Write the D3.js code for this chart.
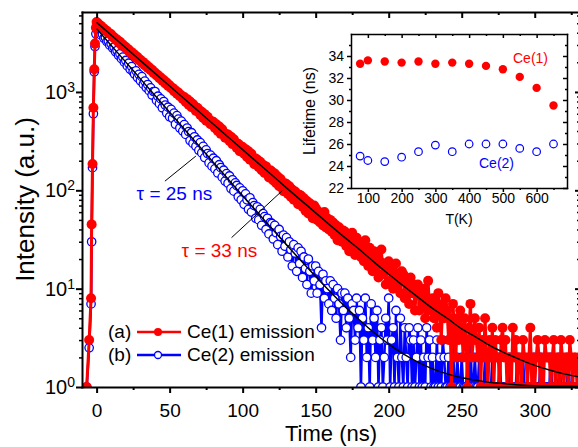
<!DOCTYPE html>
<html>
<head>
<meta charset="utf-8">
<script src="https://cdn.jsdelivr.net/npm/d3@7"></script>
<style>
  body { margin: 0; background: #fff; }
  text { font-family: "Liberation Sans", Arial, sans-serif; }
</style>
</head>
<body>
<svg id="chart" width="578" height="447"></svg>
<script>
///////////////////////////////    DATA    ///////////////////////////////
// rising edge of the pulse (ns, counts)
var riseTimes = [-6.8, -5.1, -3.8, -3.4, -2.8, -2.2, -1.6, -1.1, -0.5];
var redRise   = [1, 3, 8, 45, 185, 690, 1700, 3100, 4500];
var blueRise  = [1, 2.5, 7, 30, 170, 600, 1600, 2900, 3900];

// decay part, one value per ns starting at t = 0
var decayStart = 0, decayStep = 1;
var redDecay = [
  5150,4980,4760,4700,4490,4420,4230,4180,3980,3930,
  3850,3610,3600,3390,3420,3190,3230,3010,3040,2850,
  2860,2680,2700,2510,2540,2370,2400,2230,2260,2100,
  2120,1980,2010,1860,1890,1750,1780,1660,1680,1560,
  1580,1470,1490,1380,1400,1300,1320,1220,1250,1150,
  1170,1090,1100,1020,1040,960,985,905,925,850,
  890,790,845,740,800,700,755,715,640,690,
  660,585,630,545,595,510,560,525,470,505,
  495,430,470,400,445,375,418,390,342,372,
  370,318,350,295,330,305,270,298,250,280,
  275,235,262,218,250,205,235,215,184,210,
  205,172,195,160,182,150,175,158,135,160,
  155,126,148,118,138,110,130,120,98,118,
  116,92,110,86,102,80,97,88,72,90,
  88,68,83,62,78,58,74,66,52,70,
  66,50,61,47,55,44,60,42,52,40,
  50,38,47,35,44,31,42,36,30,39,
  38,27,35,24,31,37,26,22,33,24,
  30,21,27,19,31,22,17,26,20,15,
  24,16,21,13,19,25,14,18,11,17,
  19,12,16,10,14,18,11,13,9,15,
  14,8,12,10,7,13,9,11,6,10,
  11,6,9,7,10,5,8,12,6,7,
  8,5,7,4,9,6,3,7,5,8,
  6,3,5,1,7,4,2,5,3,6,
  4,2,5,3,1,4,7,2,3,5,
  3,2,4,1,3,2,5,2,1,3,
  2,4,1,3,2,2,1,3,4,2,
  3,1,2,2,1,4,2,3,1,2,
  2,1,3,2,2,1,2,4,1,2,
  1,2,3,2,1,2,1,3,2,2,
  2,1,2,3,1,2,2,1,3,2,
  1,2,2,1,3,2,1,2,2,1,
  2,1,2,3,1,2,1,2,2,1,2
];
var blueDecay = [
  4450,4120,4150,3800,3850,3520,3580,3250,3300,2990,
  3080,2790,2850,2560,2640,2360,2440,2180,2260,2010,
  2090,1840,1960,1700,1810,1600,1520,1640,1400,1510,
  1300,1430,1200,1290,1110,1190,1030,1100,930,1010,
  1010,820,905,760,850,690,800,735,610,700,
  560,665,540,610,470,575,530,430,505,400,
  465,370,430,395,320,385,300,350,280,325,
  255,305,240,280,215,258,236,190,228,176,
  212,165,200,150,182,170,136,160,124,148,
  118,140,104,128,98,119,112,86,106,80,
  99,72,92,80,64,84,60,75,70,52,
  68,50,64,44,58,54,40,52,36,47,
  46,32,44,37,28,40,34,24,35,27,
  33,21,30,25,17,28,23,15,26,18,
  24,13,21,16,11,20,15,9,17,12,
  17,9,15,11,4,14,8,12,10,7,
  12,6,11,8,5,10,7,3,9,6,
  9,4,8,5,2,7,6,3,8,4,
  6,1,5,3,8,2,4,1,7,3,
  5,2,6,1,3,4,1,2,5,3,
  8,1,3,4,1,6,2,1,5,2,
  1,4,2,1,4,3,1,3,1,2,
  4,1,3,1,2,1,4,2,3,1,
  2,1,1,3,1,2,1,3,2,1,
  1,2,1,1,3,1,1,2,1,1,
  2,1,1,1,2,1,3,1,1,2,
  1,1,2,1,1,1,2,1,1,1,
  1,2,1,1,1,1,2,1,1,1,
  1,1,1,2,1,1,1,1,2,1,
  1,1,2,1,1,1,1,1,1,2,
  1,1,1,1,2,1,1,1,1,1,
  1,2,1,1,1,1,1,2,1,1,
  1,1,1,2,1,1,1,1,1,1,
  1,1,1,1,2,1,1,1,1,1,1
];

// exponential fits
var fitTimes = [0,10,20,30,40,50,60,70,80,90,100,110,120,130,140,150,160,170,
                180,190,200,210,220,230,240,250,260,270,280,290,300,310,320,330,340];
var redFit  = [5101,3785,2809,2084,1546,1148,852,632,469,348,259,192,143,106,79,59,44,33,
               25,18.6,14,10.7,8.2,6.3,5.0,3.9,3.2,2.6,2.2,1.9,1.66,1.49,1.36,1.27,1.2];
var blueFit = [4401,2974,2010,1358,918,621,420,284,192,130,88,60,40.8,27.9,19.2,13.3,9.3,6.6,
               4.8,3.56,2.73,2.17,1.79,1.53,1.36,1.24,1.17,1.11,1.08,1.05,1.03,1.02,1.02,1.01,1.01];

// inset: lifetime vs temperature
var insetTemps = [77,100,150,200,250,300,350,400,450,500,550,600,650];
var ce1Life = [33.3,33.6,33.5,33.4,33.5,33.3,33.4,33.3,33.1,32.8,32.1,31.1,29.5];
var ce2Life = [24.9,24.5,24.4,24.8,25.3,25.9,25.3,26.0,26.0,26.0,25.6,25.3,26.0];

// ticks
var xMajor = [0,50,100,150,200,250,300];
var xMinor = [25,75,125,175,225,275,325];
var yMajor = [1,10,100,1000];
var yMinor = [2,3,4,5,6,7,8,9,20,30,40,50,60,70,80,90,200,300,400,500,600,700,800,900,2000,3000,4000,5000,6000];
var inXMajor = [100,200,300,400,500,600];
var inXMinor = [150,250,350,450,550,650];
var inYMajor = [22,24,26,28,30,32,34];
var inYMinor = [23,25,27,29,31,33,35];

// annotations, in data units [t, value]
var tauNotes = [
  {text: "\u03c4 = 25 ns", color: "#0000ff", at: [27.4, 80], from: [46.8, 124], to: [68, 223]},
  {text: "\u03c4 = 33 ns", color: "#ff0000", at: [58.2, 21], from: [92.4, 33], to: [127.1, 99]}
];

///////////////////////////////    LAYOUT    ///////////////////////////////
var FONT = '"Liberation Sans", Arial, sans-serif';
var RED = "#ff0000", BLUE = "#0000ff";
var plotL = 82, plotR = 580, plotT = 12, plotB = 387;

var svg = d3.select("#chart");

var x = d3.scaleLinear().domain([-10, 331]).range([plotL, plotR]);
var y = d3.scaleLog().domain([1, 6500]).range([plotB, plotT]);

svg.append("clipPath").attr("id", "plotclip")
  .append("rect")
  .attr("x", plotL).attr("y", plotT)
  .attr("width", plotR - plotL).attr("height", plotB - plotT);

function buildSeries(rise, decay) {
  var pts = riseTimes.map(function(t, i) { return [t, rise[i]]; });
  decay.forEach(function(v, i) { pts.push([decayStart + i * decayStep, v]); });
  return pts;
}
var redSeries = buildSeries(redRise, redDecay);
var blueSeries = buildSeries(blueRise, blueDecay);

var line = d3.line()
  .x(function(d) { return x(d[0]); })
  .y(function(d) { return y(d[1]); });

var data = svg.append("g").attr("clip-path", "url(#plotclip)");

// blue first, red on top
data.append("path").datum(blueSeries)
  .attr("d", line).attr("fill", "none")
  .attr("stroke", BLUE).attr("stroke-width", 2.5);
data.append("g").selectAll("circle")
  .data(blueSeries).enter().append("circle")
  .attr("cx", function(d) { return x(d[0]); })
  .attr("cy", function(d) { return y(d[1]); })
  .attr("r", 4.2)
  .attr("fill", "#fff").attr("stroke", BLUE).attr("stroke-width", 1.3);

data.append("path").datum(redSeries)
  .attr("d", line).attr("fill", "none")
  .attr("stroke", RED).attr("stroke-width", 3);
data.append("g").selectAll("circle")
  .data(redSeries).enter().append("circle")
  .attr("cx", function(d) { return x(d[0]); })
  .attr("cy", function(d) { return y(d[1]); })
  .attr("r", 5)
  .attr("fill", RED);

// fit curves
var fitLine = d3.line()
  .x(function(d) { return x(d[0]); })
  .y(function(d) { return y(d[1]); })
  .curve(d3.curveMonotoneX);
[redFit, blueFit].forEach(function(vals) {
  data.append("path")
    .datum(fitTimes.map(function(t, i) { return [t, vals[i]]; }))
    .attr("d", fitLine).attr("fill", "none")
    .attr("stroke", "#000").attr("stroke-width", 1.5);
});

// tau annotations
tauNotes.forEach(function(n) {
  svg.append("line")
    .attr("x1", x(n.from[0])).attr("y1", y(n.from[1]))
    .attr("x2", x(n.to[0])).attr("y2", y(n.to[1]))
    .attr("stroke", "#000").attr("stroke-width", 1);
  svg.append("text")
    .attr("x", x(n.at[0])).attr("y", y(n.at[1]))
    .attr("font-size", 19).attr("fill", n.color)
    .text(n.text);
});

///////////////////////////////    AXES    ///////////////////////////////
function styleAxis(g, width, fontSize) {
  g.attr("font-family", FONT).attr("font-size", fontSize);
  g.selectAll(".tick line").attr("stroke-width", width);
  g.select(".domain").attr("stroke-width", width).attr("stroke-linecap", "square");
  g.selectAll("text").attr("fill", "#000");
  return g;
}
function noDomain(g) { g.select(".domain").remove(); return g; }

// bottom
styleAxis(svg.append("g").attr("transform", "translate(0," + plotB + ")")
  .call(d3.axisBottom(x).tickValues(xMajor).tickSize(6).tickSizeOuter(0).tickPadding(11)
    .tickFormat(d3.format("d"))), 2, 19);
noDomain(styleAxis(svg.append("g").attr("transform", "translate(0," + plotB + ")")
  .call(d3.axisBottom(x).tickValues(xMinor).tickSize(3).tickFormat("")), 2, 19));
// top (inward ticks, no labels)
styleAxis(svg.append("g").attr("transform", "translate(0," + plotT + ")")
  .call(d3.axisTop(x).tickValues(xMajor).tickSize(-6).tickSizeOuter(0).tickFormat("")), 2, 19);
noDomain(styleAxis(svg.append("g").attr("transform", "translate(0," + plotT + ")")
  .call(d3.axisTop(x).tickValues(xMinor).tickSize(-3).tickFormat("")), 2, 19));

// left, log with 10^n labels
var gy = styleAxis(svg.append("g").attr("transform", "translate(" + plotL + ",0)")
  .call(d3.axisLeft(y).tickValues(yMajor).tickSize(6).tickSizeOuter(0).tickPadding(1)
    .tickFormat(function() { return ""; })), 2, 20);
gy.selectAll(".tick text").each(function(d) {
  var t = d3.select(this);
  t.append("tspan").text("10");
  t.append("tspan").attr("dy", "-0.5em").attr("font-size", 14).text(Math.round(Math.log10(d)));
});
noDomain(styleAxis(svg.append("g").attr("transform", "translate(" + plotL + ",0)")
  .call(d3.axisLeft(y).tickValues(yMinor).tickSize(3).tickFormat("")), 1.5, 19));
// right (inward)
styleAxis(svg.append("g").attr("transform", "translate(" + plotR + ",0)")
  .call(d3.axisRight(y).tickValues(yMajor).tickSize(-5).tickSizeOuter(0).tickFormat("")), 2, 19);
noDomain(styleAxis(svg.append("g").attr("transform", "translate(" + plotR + ",0)")
  .call(d3.axisRight(y).tickValues(yMinor).tickSize(-3).tickFormat("")), 1.5, 19));

svg.append("text")
  .attr("x", (plotL + plotR) / 2).attr("y", 441)
  .attr("text-anchor", "middle").attr("font-size", 22)
  .text("Time (ns)");
svg.append("text")
  .attr("transform", "translate(34," + ((plotT + plotB) / 2) + ") rotate(-90)")
  .attr("text-anchor", "middle").attr("font-size", 26)
  .text("Intensity (a.u.)");

///////////////////////////////    LEGEND    ///////////////////////////////
var legend = [
  {tag: "(a)", label: "Ce(1) emission", color: RED, filled: true, y: 332},
  {tag: "(b)", label: "Ce(2) emission", color: BLUE, filled: false, y: 355}
];
legend.forEach(function(l) {
  var g = svg.append("g").attr("transform", "translate(0," + l.y + ")");
  g.append("text").attr("x", 108).attr("y", 6).attr("font-size", 19).text(l.tag);
  g.append("line").attr("x1", 137).attr("x2", 181).attr("y1", 0).attr("y2", 0)
    .attr("stroke", l.color).attr("stroke-width", 2.5);
  g.append("circle").attr("cx", 158).attr("cy", 0)
    .attr("r", l.filled ? 4 : 3.5)
    .attr("fill", l.filled ? l.color : "#fff")
    .attr("stroke", l.color).attr("stroke-width", l.filled ? 0 : 1.3);
  g.append("text").attr("x", 187).attr("y", 6).attr("font-size", 19).text(l.label);
});

///////////////////////////////    INSET    ///////////////////////////////
var inL = 351, inR = 567, inT = 34, inB = 188;
var ix = d3.scaleLinear().domain([50, 690]).range([inL, inR]);
var iy = d3.scaleLinear().domain([22, 36]).range([inB, inT]);

svg.append("rect").attr("x", inL).attr("y", inT)
  .attr("width", inR - inL).attr("height", inB - inT).attr("fill", "#fff");

svg.append("g").selectAll("circle")
  .data(insetTemps).enter().append("circle")
  .attr("cx", function(d) { return ix(d); })
  .attr("cy", function(d, i) { return iy(ce1Life[i]); })
  .attr("r", 4.2).attr("fill", RED);
svg.append("g").selectAll("circle")
  .data(insetTemps).enter().append("circle")
  .attr("cx", function(d) { return ix(d); })
  .attr("cy", function(d, i) { return iy(ce2Life[i]); })
  .attr("r", 3.8).attr("fill", "none").attr("stroke", BLUE).attr("stroke-width", 1.2);

styleAxis(svg.append("g").attr("transform", "translate(0," + inB + ")")
  .call(d3.axisBottom(ix).tickValues(inXMajor).tickSize(4).tickSizeOuter(0).tickPadding(1)), 1.5, 14);
noDomain(styleAxis(svg.append("g").attr("transform", "translate(0," + inB + ")")
  .call(d3.axisBottom(ix).tickValues(inXMinor).tickSize(2).tickFormat("")), 1.5, 14));
styleAxis(svg.append("g").attr("transform", "translate(0," + inT + ")")
  .call(d3.axisTop(ix).tickValues(inXMajor).tickSize(-4).tickSizeOuter(0).tickFormat("")), 1.5, 14);
noDomain(styleAxis(svg.append("g").attr("transform", "translate(0," + inT + ")")
  .call(d3.axisTop(ix).tickValues(inXMinor).tickSize(-2).tickFormat("")), 1.5, 14));
styleAxis(svg.append("g").attr("transform", "translate(" + inL + ",0)")
  .call(d3.axisLeft(iy).tickValues(inYMajor).tickSize(4).tickSizeOuter(0).tickPadding(3)), 1.5, 14);
noDomain(styleAxis(svg.append("g").attr("transform", "translate(" + inL + ",0)")
  .call(d3.axisLeft(iy).tickValues(inYMinor).tickSize(2).tickFormat("")), 1.5, 14));
styleAxis(svg.append("g").attr("transform", "translate(" + inR + ",0)")
  .call(d3.axisRight(iy).tickValues(inYMajor).tickSize(-4).tickSizeOuter(0).tickFormat("")), 1.5, 14);
noDomain(styleAxis(svg.append("g").attr("transform", "translate(" + inR + ",0)")
  .call(d3.axisRight(iy).tickValues(inYMinor).tickSize(-2).tickFormat("")), 1.5, 14));

svg.append("text")
  .attr("x", (inL + inR) / 2).attr("y", 224)
  .attr("text-anchor", "middle").attr("font-size", 14).text("T(K)");
svg.append("text")
  .attr("transform", "translate(315," + ((inT + inB) / 2) + ") rotate(-90)")
  .attr("text-anchor", "middle").attr("font-size", 16).text("Lifetime (ns)");
svg.append("text").attr("x", 513).attr("y", 63)
  .attr("font-size", 14).attr("fill", RED).text("Ce(1)");
svg.append("text").attr("x", 479).attr("y", 168)
  .attr("font-size", 14).attr("fill", BLUE).text("Ce(2)");
</script>
</body>
</html>
